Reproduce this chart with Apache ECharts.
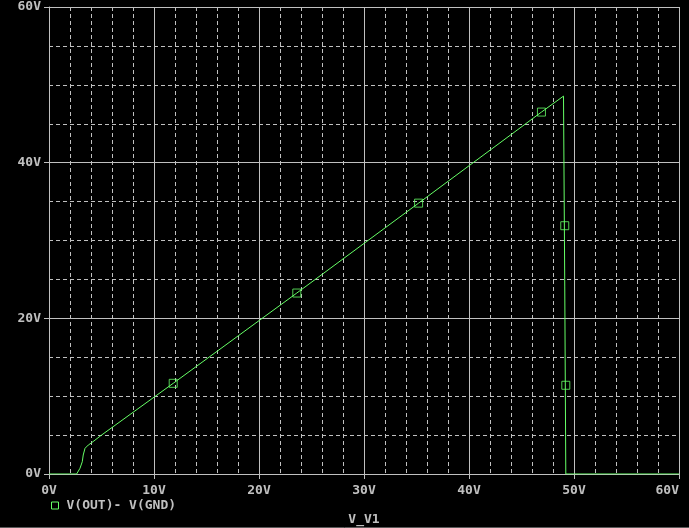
<!DOCTYPE html>
<html>
<head>
<meta charset="utf-8">
<script src="https://cdn.jsdelivr.net/npm/echarts@6/dist/echarts.min.js"></script>
<style>
html,body{margin:0;padding:0;background:#000;}
#c{width:689px;height:528px;}
</style>
</head>
<body>
<div id="c"></div>
<script>
// Trace V(OUT)- V(GND) versus V_V1 (volts)
var sweepV = [0, 2.63, 2.95, 3.17, 3.26, 3.43, 3.74, 4.06, 5.0, 11.83, 23.6, 35.2, 46.9, 49.0, 49.12, 49.12, 49.22, 49.22, 60];
var outV   = [0, 0, 0.73, 1.58, 2.44, 3.3, 3.72, 4.02, 5.0, 11.65, 23.25, 34.8, 46.5, 48.55, 48.55, 24.15, 24.0, 0, 0];
// marker positions along the trace
var markerX = [11.83, 23.6, 35.2, 46.9, 49.12, 49.22];
var markerY = [11.65, 23.25, 34.8, 46.5, 31.9, 11.4];
var xTicks = ['0V','10V','20V','30V','40V','50V','60V'];
var yTicks = ['0V','20V','40V','60V'];
var traceName = 'V(OUT)- V(GND)';
var axisTitle = 'V_V1';

var GREEN = '#66ff66';
var GRAY = '#c0c0c0';
var FONT = 'DejaVu Sans Mono';

var lineData = sweepV.map(function(v,i){return [v,outV[i]];});
var markData = markerX.map(function(v,i){return [v,markerY[i]];});

var chart = echarts.init(document.getElementById('c'), null, {renderer:'canvas'});
chart.setOption({
  backgroundColor:'#000',
  animation:false,
  grid:{left:49,right:10,top:7,bottom:54,containLabel:false,outerBoundsMode:'none'},
  legend:{
    left:51, top:499, padding:0,
    data:[{name:traceName, icon:'rect'}],
    itemWidth:7, itemHeight:7,
    itemStyle:{color:'rgba(0,0,0,0)', borderColor:GREEN, borderWidth:1},
    textStyle:{color:GRAY, fontFamily:FONT, fontWeight:'bold', fontSize:13, padding:[0,0,0,3]}
  },
  xAxis:{
    type:'value', min:0, max:60, interval:10,
    name:axisTitle, nameLocation:'middle', nameGap:39,
    nameTextStyle:{color:GRAY, fontFamily:FONT, fontWeight:'bold', fontSize:13},
    axisLine:{show:true, lineStyle:{color:GRAY,width:1}},
    axisTick:{show:true, length:5, lineStyle:{color:GRAY}},
    axisLabel:{color:GRAY, fontFamily:FONT, fontWeight:'bold', fontSize:13, margin:10,
      alignMaxLabel:'right',
      formatter:function(v){return xTicks[Math.round(v/10)];}},
    splitLine:{show:true, lineStyle:{color:GRAY,width:1,type:'solid'}},
    minorTick:{show:false, splitNumber:5},
    minorSplitLine:{show:true, lineStyle:{color:GRAY,width:1,type:[4,3]}}
  },
  yAxis:{
    type:'value', min:0, max:60, interval:20,
    axisLine:{show:true, lineStyle:{color:GRAY,width:1}},
    axisTick:{show:true, length:5, lineStyle:{color:GRAY}},
    axisLabel:{color:GRAY, fontFamily:FONT, fontWeight:'bold', fontSize:13, margin:8,
      formatter:function(v){return yTicks[Math.round(v/20)];}},
    splitLine:{show:true, lineStyle:{color:GRAY,width:1,type:'solid'}},
    minorTick:{show:false, splitNumber:4},
    minorSplitLine:{show:true, lineStyle:{color:GRAY,width:1,type:[4,3]}}
  },
  series:[
    {name:traceName, type:'line', data:lineData, symbol:'none', z:3,
     lineStyle:{color:GREEN,width:1}, itemStyle:{color:GREEN}},
    {name:traceName, type:'scatter', data:markData, symbol:'rect', symbolSize:8, z:4,
     itemStyle:{color:'rgba(0,0,0,0)', borderColor:GREEN, borderWidth:1}}
  ],
  graphic:[
    {type:'line', shape:{x1:0,y1:527.5,x2:689,y2:527.5}, style:{stroke:'#5a5a5a',lineWidth:1}}
  ]
});
</script>
</body>
</html>
